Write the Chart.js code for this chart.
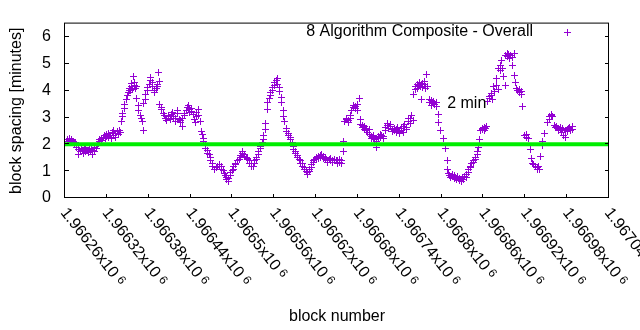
<!DOCTYPE html>
<html>
<head>
<meta charset="utf-8">
<script src="https://cdn.jsdelivr.net/npm/chart.js@4.4.1/dist/chart.umd.min.js"></script>
<style>
  html, body { margin: 0; padding: 0; background: #fff; }
  #wrap { width: 640px; height: 330px; }
</style>
</head>
<body>
<div id="wrap"><canvas id="chart" width="640" height="330"></canvas></div>
<script>
const seriesLabel = "8 Algorithm Composite - Overall";
const targetLabel = "2 min";
const targetMinutes = 2;
const targetLabelBlock = 1966808;
const targetLabelMinutes = 3.5;
const xMin = 1966260;
const xMax = 1967040;
const xStep = 60;
const yMin = 0;
const yMax = 6.5;
const yTicks = [0, 1, 2, 3, 4, 5, 6];

// block heights
const blocks = [
  1966263,1966265,1966266,1966267,1966269,1966270,1966272,1966273,1966275,1966276,1966277,1966279,1966280,1966282,1966283,1966285,1966286,1966288,1966289,1966290,1966292,1966293,1966295,1966296,1966298,1966299,1966300,1966302,1966303,1966305,1966306,
  1966308,1966309,1966310,1966312,1966313,1966315,1966316,1966318,1966319,1966320,1966322,1966323,1966325,1966326,1966328,1966329,1966330,1966332,1966333,1966335,1966336,1966338,1966339,
  1966341,1966342,1966343,1966345,1966346,1966348,1966349,1966351,1966352,1966353,1966354,1966355,1966356,1966357,1966358,1966359,1966360,1966361,1966362,1966363,1966365,1966366,1966368,1966369,1966371,1966372,1966373,1966375,1966376,1966378,1966379,1966381,1966382,1966383,1966385,1966386,1966388,1966389,1966391,1966392,1966393,1966394,1966395,
  1966396,1966398,1966399,1966401,1966402,1966404,1966405,1966406,1966408,1966409,1966411,1966412,1966414,1966415,1966416,1966418,1966419,1966421,1966422,1966424,1966425,1966426,1966428,1966429,1966431,1966432,1966434,1966435,1966437,1966438,1966439,1966441,1966442,1966444,1966445,1966447,1966448,1966449,1966451,1966452,1966454,
  1966455,1966457,1966458,1966459,1966461,1966462,1966464,1966465,1966467,1966468,1966469,1966471,1966472,1966474,1966475,1966477,1966478,1966479,1966481,1966482,1966484,1966485,1966487,1966488,1966490,1966491,1966492,1966494,1966495,1966497,1966498,1966500,1966501,1966502,1966504,1966505,1966507,1966508,1966510,1966511,1966512,1966514,1966515,
  1966517,1966518,1966520,1966521,1966522,1966524,1966525,1966527,1966528,1966530,1966531,1966532,1966534,1966535,1966537,1966538,1966540,1966541,1966543,1966544,1966545,1966547,1966548,1966550,1966551,1966553,1966554,1966555,1966557,1966558,1966560,1966561,1966563,1966564,1966565,1966567,1966568,1966570,1966571,1966573,1966574,1966575,
  1966577,1966578,1966580,1966581,1966583,1966584,1966586,1966587,1966588,1966590,1966591,1966593,1966594,
  1966596,1966597,1966598,1966600,1966601,1966603,1966604,1966606,1966607,1966608,1966610,1966611,1966613,1966614,1966616,1966617,1966618,1966620,1966621,1966623,1966624,1966626,1966627,1966628,1966630,1966631,1966633,1966634,1966636,1966637,1966639,1966640,1966641,1966643,1966644,1966646,1966647,1966649,1966650,1966651,1966653,1966654,1966656,1966657,1966659,1966660,
  1966661,1966663,1966664,1966666,1966667,1966669,1966670,1966671,1966673,1966674,1966676,1966677,1966679,1966680,1966682,1966683,1966684,1966686,1966687,1966689,1966690,1966692,1966693,1966694,1966696,1966697,1966699,1966700,1966702,1966703,1966704,1966706,1966707,1966709,1966710,
  1966712,1966713,1966714,1966716,1966717,1966719,1966720,1966722,1966723,1966724,1966726,1966727,1966729,1966730,1966732,1966733,1966735,1966736,1966737,1966739,1966740,1966742,1966743,1966745,1966746,1966747,1966749,1966750,1966752,1966753,1966755,1966756,1966757,1966759,
  1966760,1966762,1966763,1966765,1966766,1966767,1966769,1966770,1966771,1966772,1966773,1966775,1966776,1966777,1966779,1966780,1966782,1966783,1966785,1966786,1966788,1966789,1966790,1966792,1966793,1966795,1966796,1966799,1966802,1966805,
  1966808,1966809,1966810,1966812,1966813,1966815,1966816,1966818,1966819,1966820,1966822,1966823,1966825,1966826,1966828,1966829,1966830,1966832,1966833,1966835,1966836,1966838,1966839,1966841,1966842,1966843,1966845,1966846,1966848,1966849,
  1966851,1966852,1966853,1966855,1966856,1966858,1966859,1966861,1966862,1966863,1966865,
  1966866,1966868,1966869,1966871,1966872,1966873,1966875,1966876,1966878,1966879,1966881,1966882,1966884,1966885,1966886,1966888,1966889,1966891,1966892,1966894,
  1966895,1966896,1966898,1966899,1966901,1966902,1966904,1966905,1966906,1966908,1966909,1966911,1966912,1966914,1966915,1966916,1966919,1966921,1966922,1966924,
  1966927,1966929,1966931,1966932,1966934,1966935,1966937,1966938,1966939,1966941,1966942,1966944,1966945,1966948,1966952,1966954,1966955,1966957,1966958,1966959,
  1966962,1966964,1966965,1966967,1966968,1966970,1966971,1966972,1966974,1966975,1966977,1966978,1966980,1966981,1966982,1966984,1966985,1966987,1966988
];

// block spacing in minutes, same order as blocks
const spacing = [
  2.18,2.11,2.22,2.14,2.07,2.18,2.11,2.03,2.07,1.96,1.89,1.63,1.81,1.74,1.85,1.78,1.67,1.81,1.74,1.89,1.78,1.70,1.85,1.74,1.81,1.63,1.78,1.89,1.74,1.85,1.96,
  2.03,2.11,2.18,2.22,2.14,2.25,2.33,2.22,2.29,2.36,2.25,2.40,2.33,2.22,2.43,2.51,2.33,2.25,2.40,2.47,2.36,2.51,2.43,
  2.84,3.02,3.16,3.35,3.49,3.68,3.82,3.93,4.00,4.08,4.00,4.15,4.26,4.04,4.52,4.19,4.30,4.08,4.15,3.71,3.46,3.27,3.09,2.95,2.84,2.51,3.53,3.68,3.86,4.00,4.11,4.22,4.37,4.48,4.30,4.15,3.93,4.00,4.08,4.15,4.22,4.66,4.33,
  3.49,3.38,3.31,3.16,3.09,2.95,2.87,2.98,3.09,3.02,2.91,3.13,3.20,3.05,2.95,2.84,2.98,3.27,3.16,2.91,2.80,2.87,2.65,2.95,3.09,3.16,3.27,3.38,3.46,3.31,3.20,3.35,3.24,3.13,2.91,2.80,3.02,3.20,3.31,3.09,2.84,
  2.47,2.36,2.22,2.11,1.96,1.85,1.78,1.67,1.63,1.52,1.38,1.27,1.16,1.08,1.08,1.12,1.16,1.19,1.16,1.23,1.16,1.08,1.01,0.90,0.83,0.76,0.68,0.61,0.72,0.83,0.94,1.01,1.08,1.16,1.23,1.30,1.38,1.41,1.45,1.52,1.60,1.67,1.74,
  1.63,1.56,1.52,1.49,1.45,1.38,1.27,1.19,1.27,1.19,1.30,1.38,1.45,1.52,1.63,1.74,1.85,1.92,2.07,2.18,2.33,2.54,2.76,3.31,3.57,3.71,3.82,3.93,4.00,4.11,4.19,4.30,4.37,4.44,4.22,4.11,3.97,3.75,3.57,3.27,3.05,2.84,
  2.58,2.47,2.40,2.33,2.25,2.18,2.07,1.92,1.81,1.74,1.67,1.60,1.52,
  1.45,1.38,1.30,1.27,1.19,1.12,1.05,0.97,0.94,0.86,0.97,1.05,1.12,1.23,1.34,1.41,1.45,1.49,1.52,1.56,1.49,1.52,1.60,1.63,1.56,1.49,1.45,1.52,1.41,1.34,1.45,1.38,1.49,1.41,1.34,1.41,1.45,1.38,1.30,1.38,1.45,1.34,1.38,1.30,2.11,1.74,
  2.84,2.91,2.98,2.87,2.80,2.95,3.09,3.27,3.38,3.46,3.35,3.42,3.27,3.49,3.71,2.91,2.73,2.62,2.69,2.54,2.65,2.58,2.51,2.43,2.54,2.36,2.29,2.22,2.33,2.25,2.18,2.11,1.89,2.22,2.29,
  2.36,2.25,2.33,2.22,2.29,2.51,2.62,2.69,2.76,2.58,2.73,2.65,2.54,2.47,2.58,2.51,2.43,2.54,2.62,2.47,2.40,2.51,2.58,2.43,2.65,2.73,2.54,2.62,2.84,2.95,2.76,2.98,3.09,2.87,
  3.86,4.04,4.15,4.22,4.08,4.19,4.30,4.15,3.68,4.26,4.11,4.33,4.22,4.08,4.59,4.15,3.68,3.57,3.46,3.64,3.53,3.60,3.49,3.57,3.42,3.13,2.80,2.51,2.22,1.85,
  1.41,1.05,0.90,0.83,0.76,0.86,0.79,0.72,0.83,0.76,0.68,0.79,0.72,0.65,0.61,0.68,0.76,0.68,0.79,0.76,0.86,0.94,1.08,1.12,1.19,1.27,1.34,1.41,1.45,1.52,
  1.63,1.74,1.89,2.18,2.51,2.58,2.54,2.62,2.51,2.58,2.65,
  3.60,3.71,3.79,3.89,3.82,3.68,4.15,3.97,4.44,4.19,4.04,4.81,4.92,4.77,5.14,4.84,4.51,4.19,5.32,5.39,
  5.28,5.35,5.21,5.32,4.95,5.24,5.39,4.55,4.30,4.08,4.00,3.93,4.04,3.97,3.86,3.42,2.33,2.25,2.36,2.22,
  1.81,1.49,1.30,1.23,1.16,1.19,1.12,1.08,1.16,1.05,1.56,1.96,2.11,2.40,2.80,2.91,3.02,3.09,3.13,3.05,
  2.69,2.62,2.65,2.58,2.51,2.62,2.54,2.43,2.58,2.33,2.51,2.25,2.54,2.47,2.58,2.62,2.51,2.54,2.65
];

const purple = "#9400d3";
const green = "#00ee00";
const fontFamily = "'Liberation Sans', Arial, Helvetica, sans-serif";

Chart.defaults.font.family = fontFamily;
Chart.defaults.font.size = 16;
Chart.defaults.color = "#000";

// crisp 1px "+" like gnuplot's point type 1
function makeCross(size, color) {
  const c = document.createElement("canvas");
  c.width = size;
  c.height = size;
  const g = c.getContext("2d");
  const mid = Math.floor(size / 2);
  g.fillStyle = color;
  g.fillRect(mid, 0, 1, size);
  g.fillRect(0, mid, size, 1);
  return c;
}
const crossMark = makeCross(7, purple);

const gnuplotLook = {
  id: "gnuplotLook",
  beforeDatasetsDraw(chart) {
    chart.ctx.imageSmoothingEnabled = false;
  },
  afterDatasetsDraw(chart) {
    chart.ctx.imageSmoothingEnabled = true;
  },
  afterDraw(chart) {
    const { ctx, chartArea: area } = chart;
    const x = chart.scales.x;
    const y = chart.scales.y;
    ctx.save();

    ctx.strokeStyle = "#000";
    ctx.lineWidth = 1;
    ctx.beginPath();
    x.ticks.forEach((tick) => {
      const px = Math.round(x.getPixelForValue(tick.value)) - 0.5;
      ctx.moveTo(px, area.bottom);
      ctx.lineTo(px, area.bottom - 4);
    });
    y.ticks.forEach((tick) => {
      const py = Math.round(y.getPixelForValue(tick.value)) - 0.5;
      ctx.moveTo(area.left, py);
      ctx.lineTo(area.left + 4, py);
      ctx.moveTo(area.right, py);
      ctx.lineTo(area.right - 4, py);
    });
    ctx.stroke();
    ctx.strokeRect(area.left - 0.5, area.top - 0.5, area.right - area.left, area.bottom - area.top);

    ctx.fillStyle = "#000";
    ctx.textAlign = "left";
    ctx.textBaseline = "middle";
    x.ticks.forEach((tick) => {
      const px = x.getPixelForValue(tick.value);
      const text = String(parseFloat((tick.value / 1e6).toFixed(6))) + "x10";
      ctx.save();
      ctx.translate(px - 1.5, area.bottom + 12);
      ctx.rotate((52 * Math.PI) / 180);
      ctx.font = `16px ${fontFamily}`;
      ctx.fillText(text, 0, 0);
      const w = ctx.measureText(text).width;
      ctx.font = `12px ${fontFamily}`;
      ctx.fillText("6", w + 4, -2);
      ctx.restore();
    });

    ctx.font = `16px ${fontFamily}`;
    ctx.textAlign = "right";
    ctx.fillText(seriesLabel, 533, 32);
    ctx.drawImage(crossMark, 564, 29);

    ctx.textAlign = "left";
    ctx.fillText(targetLabel, x.getPixelForValue(targetLabelBlock), y.getPixelForValue(targetLabelMinutes));
    ctx.restore();
  },
};

new Chart(document.getElementById("chart"), {
  type: "scatter",
  data: {
    datasets: [
      {
        type: "line",
        data: [
          { x: xMin, y: targetMinutes },
          { x: xMax, y: targetMinutes },
        ],
        borderColor: green,
        borderWidth: 4,
        pointRadius: 0,
        order: 0,
      },
      {
        label: seriesLabel,
        data: blocks.map((b, i) => ({ x: b, y: spacing[i] })),
        pointStyle: crossMark,
        pointRadius: 3.5,
        borderColor: purple,
        backgroundColor: purple,
        order: 1,
      },
    ],
  },
  options: {
    responsive: false,
    animation: false,
    events: [],
    layout: { padding: { top: 20, right: 31, left: 0, bottom: 0 } },
    plugins: {
      legend: { display: false },
      tooltip: { enabled: false },
    },
    scales: {
      x: {
        type: "linear",
        min: xMin,
        max: xMax,
        ticks: { stepSize: xStep, display: false },
        grid: { display: false, drawTicks: false },
        border: { display: false },
        title: { display: true, text: "block number", padding: { top: 0, bottom: 4 } },
        afterFit(scale) {
          scale.height = 132;
        },
      },
      y: {
        min: yMin,
        max: yMax,
        ticks: { padding: 14 },
        afterBuildTicks(scale) {
          scale.ticks = yTicks.map((v) => ({ value: v }));
        },
        grid: { display: false, drawTicks: false },
        border: { display: false },
        title: { display: true, text: "block spacing [minutes]", padding: { top: 7, bottom: 0 } },
        afterFit(scale) {
          scale.width = 65;
        },
      },
    },
  },
  plugins: [gnuplotLook],
});
</script>
</body>
</html>
